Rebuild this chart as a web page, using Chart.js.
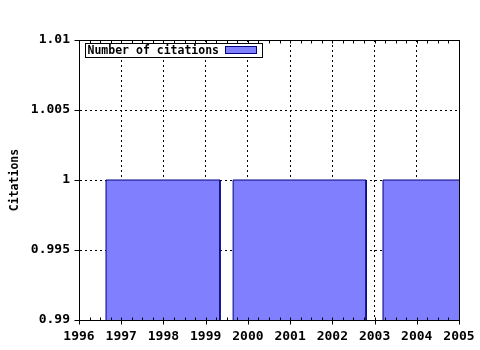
<!DOCTYPE html>
<html>
<head>
    <title>Number of citations</title>
    <script src="https://cdnjs.cloudflare.com/ajax/libs/Chart.js/4.4.1/chart.umd.min.js"></script>
    <style>
        body { margin: 0; background: #fff; }
    </style>
</head>
<body>
    <canvas id="myChart" width="480" height="350"></canvas>

    <script>
        // bin edges (years) and counts
        const seriesLabel = 'Number of citations';
        const barStart = [1996.64, 1999.65, 2003.2];
        const barEnd = [1999.34, 2002.8, 2005.6];
        const barValue = [1, 1, 1];

        const xTicks = [1996, 1997, 1998, 1999, 2000, 2001, 2002, 2003, 2004, 2005];
        const yTicks = [0.99, 0.995, 1, 1.005, 1.01];
        const yTitle = 'Citations';

        const fillColor = '#8080ff';
        const edgeColor = '#000080';

        // one closed rectangle per bin, filled down to the axis
        const datasets = barStart.map(function(s, i) {
            return {
                label: seriesLabel,
                data: [
                    { x: s, y: yTicks[0] },
                    { x: s, y: barValue[i] },
                    { x: barEnd[i], y: barValue[i] },
                    { x: barEnd[i], y: yTicks[0] }
                ],
                borderColor: edgeColor,
                backgroundColor: fillColor,
                borderWidth: 1,
                fill: 'start',
                pointRadius: 0,
                tension: 0
            };
        });

        // frame, tick marks and the boxed legend
        const decorations = {
            id: 'decorations',
            afterDraw(chart) {
                const ctx = chart.ctx;
                const a = chart.chartArea;
                const xs = chart.scales.x;
                const ys = chart.scales.y;
                const L = Math.round(a.left) + 0.5, R = Math.round(a.right) + 0.5;
                const T = Math.round(a.top) + 0.5, B = Math.round(a.bottom) + 0.5;
                ctx.save();
                ctx.strokeStyle = '#000';
                ctx.lineWidth = 1;
                ctx.beginPath();
                ctx.moveTo(L, T); ctx.lineTo(R, T); ctx.lineTo(R, B); ctx.lineTo(L, B); ctx.closePath();
                // minor ticks on bottom and top
                for (let v = xTicks[0]; v <= xTicks[xTicks.length - 1]; v += 0.25) {
                    const px = Math.round(xs.getPixelForValue(v)) + 0.5;
                    ctx.moveTo(px, B); ctx.lineTo(px, B - 3);
                    ctx.moveTo(px, T); ctx.lineTo(px, T + 3);
                }
                // major ticks outward
                xTicks.forEach(function(v) {
                    const px = Math.round(xs.getPixelForValue(v)) + 0.5;
                    ctx.moveTo(px, B); ctx.lineTo(px, B + 4);
                });
                yTicks.forEach(function(v) {
                    const py = Math.round(ys.getPixelForValue(v)) + 0.5;
                    ctx.moveTo(L, py); ctx.lineTo(L - 5, py);
                });
                ctx.stroke();

                // legend box
                const bx = L + 6, by = T + 3, bw = 177, bh = 14;
                ctx.fillStyle = '#fff';
                ctx.fillRect(bx, by, bw, bh);
                ctx.strokeRect(bx, by, bw, bh);
                ctx.fillStyle = '#000';
                ctx.font = 'bold 11.5px "DejaVu Sans Mono"';
                ctx.textBaseline = 'middle';
                ctx.fillText(seriesLabel, bx + 2, by + bh / 2 + 1);
                ctx.fillStyle = fillColor;
                ctx.fillRect(bx + 140, by + 3, 31, 7);
                ctx.strokeStyle = edgeColor;
                ctx.strokeRect(bx + 140, by + 3, 31, 7);
                ctx.restore();
            }
        };

        const ctx = document.getElementById('myChart').getContext('2d');
        new Chart(ctx, {
            type: 'line',
            data: { datasets: datasets },
            options: {
                responsive: false,
                animation: false,
                layout: { padding: { top: 40, right: 21, left: 8, bottom: 0 } },
                plugins: {
                    legend: { display: false },
                    tooltip: { enabled: false }
                },
                scales: {
                    x: {
                        type: 'linear',
                        min: xTicks[0],
                        max: xTicks[xTicks.length - 1],
                        afterBuildTicks: function(scale) {
                            scale.ticks = xTicks.map(function(v) { return { value: v }; });
                        },
                        afterFit: function(scale) {
                            scale.height = 30;
                            scale.paddingLeft = 0;
                            scale.paddingRight = 0;
                        },
                        grid: { color: '#000', lineWidth: 1, drawTicks: false },
                        border: { display: true, color: '#000', width: 1, dash: [2, 3] },
                        ticks: {
                            color: '#000',
                            font: { family: 'DejaVu Sans Mono', size: 13, weight: 'bold' },
                            padding: 9,
                            maxRotation: 0,
                            autoSkip: false,
                            callback: function(v) { return String(v); }
                        }
                    },
                    y: {
                        type: 'linear',
                        min: yTicks[0],
                        max: yTicks[yTicks.length - 1],
                        afterBuildTicks: function(scale) {
                            scale.ticks = yTicks.map(function(v) { return { value: v }; });
                        },
                        afterFit: function(scale) {
                            scale.width = 71;
                            scale.paddingTop = 0;
                            scale.paddingBottom = 0;
                        },
                        grid: { color: '#000', lineWidth: 1, drawTicks: false },
                        border: { display: true, color: '#000', width: 1, dash: [2, 3] },
                        title: {
                            display: true,
                            text: yTitle,
                            color: '#000',
                            font: { family: 'DejaVu Sans Mono', size: 11.5, weight: 'bold' },
                            padding: { top: 0, bottom: 0 }
                        },
                        ticks: {
                            color: '#000',
                            font: { family: 'DejaVu Sans Mono', size: 13, weight: 'bold' },
                            padding: 9,
                            callback: function(v) { return String(v); }
                        }
                    }
                }
            },
            plugins: [decorations]
        });
    </script>
</body>
</html>
